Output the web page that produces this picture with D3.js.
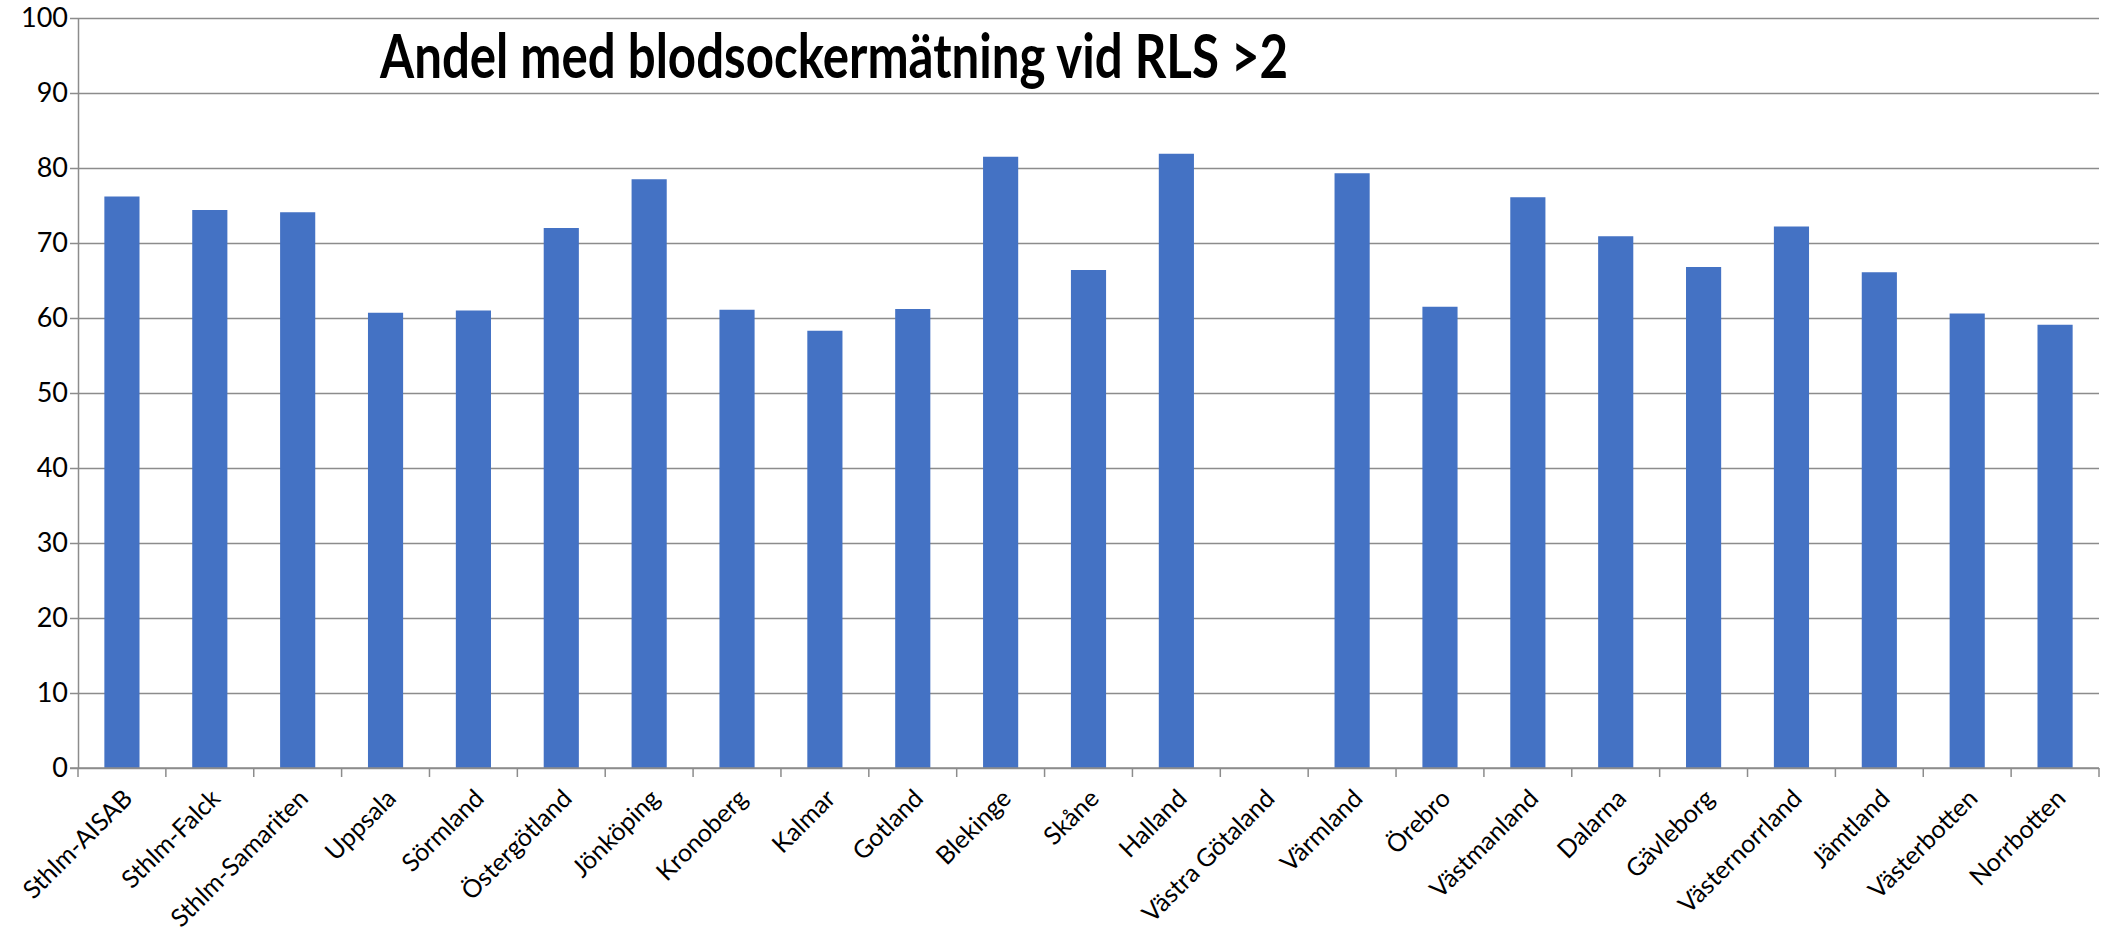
<!DOCTYPE html>
<html>
<head>
<meta charset="utf-8">
<script src="https://cdn.jsdelivr.net/npm/d3@7"></script>
<style>
  body { margin: 0; background: #fff; }
  svg { display: block; }
</style>
</head>
<body>
<div id="chart"></div>
<script>
// regions / ambulance organisations
const categories = [
    "Sthlm-AISAB", "Sthlm-Falck", "Sthlm-Samariten", "Uppsala", "Sörmland",
    "Östergötland", "Jönköping", "Kronoberg", "Kalmar", "Gotland", "Blekinge",
    "Skåne", "Halland", "Västra Götaland", "Värmland", "Örebro", "Västmanland",
    "Dalarna", "Gävleborg", "Västernorrland", "Jämtland", "Västerbotten", "Norrbotten"
];
// share (%) with blood sugar measurement, null = no data
const values = [
    76.2, 74.4, 74.1, 60.7, 61.0,
    72.0, 78.5, 61.1, 58.3, 61.2, 81.5,
    66.4, 81.9, null, 79.3, 61.5, 76.1,
    70.9, 66.8, 72.2, 66.1, 60.6, 59.1
];
const yTicks = [0, 10, 20, 30, 40, 50, 60, 70, 80, 90, 100];
const title = "Andel med blodsockermätning vid RLS >2";

const width = 2108, height = 933;
const margin = { top: 18, right: 9, bottom: 165, left: 78 };
const plotH = height - margin.top - margin.bottom;
const plotW = width - margin.left - margin.right;

const svg = d3.select("#chart")
    .append("svg")
    .attr("width", width)
    .attr("height", height);

const g = svg.append("g")
    .attr("transform", `translate(${margin.left},${margin.top})`);

const x = d3.scaleBand()
    .domain(categories)
    .range([0, plotW])
    .padding(0);

const y = d3.scaleLinear()
    .domain([0, 100])
    .range([plotH, 0]);

const gridColor = "#8c8c8c";
const font = "Lato, 'Open Sans', sans-serif";

// gridlines + y axis
const yAxis = g.append("g")
    .call(d3.axisLeft(y).tickValues(yTicks).tickSize(-plotW).tickSizeOuter(0).tickPadding(10));
yAxis.select(".domain").attr("stroke", gridColor).attr("stroke-width", 1.5);
yAxis.selectAll(".tick line")
    .attr("x1", -8)
    .attr("stroke", gridColor)
    .attr("stroke-width", 1.5);
yAxis.selectAll(".tick text")
    .attr("fill", "#000")
    .style("font-family", font)
    .style("font-size", "27px");

// bars
const barW = x.bandwidth() * 0.4;
g.selectAll(".bar")
    .data(categories.map((c, i) => ({ cat: c, val: values[i] })).filter(d => d.val != null))
    .enter()
    .append("rect")
    .attr("class", "bar")
    .attr("x", d => x(d.cat) + (x.bandwidth() - barW) / 2)
    .attr("y", d => y(d.val))
    .attr("width", barW)
    .attr("height", d => plotH - y(d.val))
    .attr("fill", "#4472c4");

// x axis with ticks between categories
const xAxis = g.append("g")
    .attr("transform", `translate(0,${plotH})`);
xAxis.append("line")
    .attr("x1", -8).attr("x2", plotW)
    .attr("stroke", gridColor).attr("stroke-width", 1.5);
xAxis.selectAll(".xtick")
    .data(categories.concat([null]))
    .enter()
    .append("line")
    .attr("x1", (d, i) => i * x.step())
    .attr("x2", (d, i) => i * x.step())
    .attr("y1", 0).attr("y2", 9)
    .attr("stroke", gridColor).attr("stroke-width", 1.5);
xAxis.selectAll(".xlabel")
    .data(categories)
    .enter()
    .append("text")
    .attr("transform", d => `translate(${x(d) + x.bandwidth() / 2 + 12},${32}) rotate(-45)`)
    .attr("text-anchor", "end")
    .attr("fill", "#000")
    .style("font-family", font)
    .style("font-size", "25px")
    .text(d => d);

// title
svg.append("text")
    .attr("x", 380)
    .attr("y", 78)
    .attr("textLength", 908)
    .attr("lengthAdjust", "spacingAndGlyphs")
    .style("font-family", font)
    .style("font-weight", "bold")
    .style("font-size", "61px")
    .attr("fill", "#000")
    .text(title);
</script>
</body>
</html>
